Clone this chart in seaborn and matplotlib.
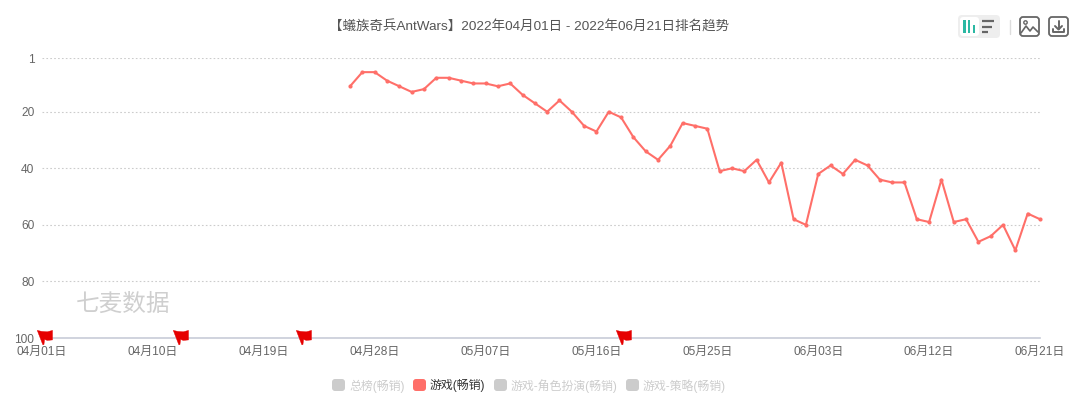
# Rank trend chart

import pandas as pd
import seaborn as sns
import matplotlib.pyplot as plt
from matplotlib.patches import FancyBboxPatch, Rectangle
from matplotlib.path import Path

# Data
start_date = "2022-04-26"
end_date = "2022-06-21"
ranks = [11, 6, 6, 9, 11, 13, 12, 8, 8, 9, 10, 10, 11, 10, 14, 17, 20, 16, 20,
         25, 27, 20, 22, 29, 34, 37, 32, 24, 25, 26, 41, 40, 41, 37, 45, 38,
         58, 60, 42, 39, 42, 37, 39, 44, 45, 45, 58, 59, 44, 59, 58, 66, 64,
         60, 69, 56, 58]
flag_dates = ["2022-04-01", "2022-04-12", "2022-04-22", "2022-05-18"]
tick_dates = ["2022-04-01", "2022-04-10", "2022-04-19", "2022-04-28", "2022-05-07",
              "2022-05-16", "2022-05-25", "2022-06-03", "2022-06-12", "2022-06-21"]
tick_labels = ["04月01日", "04月10日", "04月19日", "04月28日", "05月07日",
               "05月16日", "05月25日", "06月03日", "06月12日", "06月21日"]
rank_ticks = [1, 20, 40, 60, 80, 100]
legend_names = ["总榜(畅销)", "游戏(畅销)", "游戏-角色扮演(畅销)", "游戏-策略(畅销)"]
legend_active = [False, True, False, False]
title = "【蟻族奇兵AntWars】2022年04月01日 - 2022年06月21日排名趋势"
watermark = "七麦数据"

sns.set_theme(style="white")
plt.rcParams["font.family"] = ["Liberation Sans", "Noto Sans CJK SC", "DejaVu Sans"]

LINE = "#ff6f69"
df = pd.DataFrame({"date": pd.date_range(start_date, end_date), "rank": ranks})

fig = plt.figure(figsize=(10.8, 4.08), dpi=100)
ax = fig.add_axes([42 / 1080, 1 - 338 / 408, 998 / 1080, 280 / 408])

# Rank line
sns.lineplot(data=df, x="date", y="rank", ax=ax, color=LINE, linewidth=1.5,
             marker="o", markersize=3, markeredgewidth=0, clip_on=False, zorder=3)

ax.set_xlim(pd.Timestamp(tick_dates[0]), pd.Timestamp(tick_dates[-1]))
ax.set_ylim(100, 1)
ax.set_xlabel("")
ax.set_ylabel("")
ax.set_xticks(pd.to_datetime(tick_dates))
ax.set_xticklabels(tick_labels)
ax.set_yticks(rank_ticks)
ax.tick_params(axis="both", length=0, labelsize=8.6, labelcolor="#666666")
ax.tick_params(axis="x", pad=5.5)
ax.tick_params(axis="y", pad=5.5)
ax.grid(axis="y", color="#cccccc", linestyle=(0, (1.5, 2)), linewidth=0.8)
ax.grid(axis="x", visible=False)
sns.despine(ax=ax, left=True, top=True, right=True)
ax.spines["bottom"].set_color("#c8ccd8")
ax.spines["bottom"].set_linewidth(1.2)

# Red flags sitting on the axis
flag = Path([(0.3, -6.5), (-5.5, 8.5), (-1, 7.5), (5, 7), (10.5, 8.5), (10.5, -1.5), (5, -2),
             (2.2, -1), (1.5, -6.5), (0.3, -6.5)])
ax.scatter(pd.to_datetime(flag_dates), [100] * len(flag_dates), marker=flag, s=207,
           color="#e60000", linewidths=0.3, edgecolors="#e60000", clip_on=False, zorder=4)

# Overlay in pixel coordinates for the page furniture
ov = fig.add_axes([0, 0, 1, 1], facecolor="none")
ov.set_xlim(0, 1080)
ov.set_ylim(408, 0)
ov.axis("off")


def rbox(x0, y0, x1, y1, r=2, fc="none", ec="none", lw=0):
    ov.add_patch(FancyBboxPatch((x0 + r, y0 + r), x1 - x0 - 2 * r, y1 - y0 - 2 * r,
                                boxstyle=f"round,pad={r},rounding_size={r}",
                                fc=fc, ec=ec, lw=lw))


ov.text(529, 26.5, title, ha="center", va="center", fontsize=9.7, color="#555555")
ov.text(76, 305, watermark, ha="left", va="center", fontsize=17, color="#cfcfcf")

# Legend
box_x = [332, 413, 494, 626]
for x, name, active in zip(box_x, legend_names, legend_active):
    rbox(x, 379, x + 13, 391, r=3, fc=LINE if active else "#cccccc")
    ov.text(x + 17, 386, name, ha="left", va="center", fontsize=8.6,
            color="#333333" if active else "#cccccc")

# Chart type switch
rbox(958, 15, 1000, 38, r=4, fc="#eeeeee")
rbox(960, 17, 979, 36, r=3, fc="#ffffff")
for x, top in [(963, 20), (967.5, 20), (972.5, 25)]:
    ov.add_patch(Rectangle((x, top), 2.6, 33 - top, fc="#2bb8a3", ec="none"))
for y, x1 in [(21, 994), (26.5, 992), (32, 988)]:
    ov.plot([982, x1], [y, y], color="#666666", lw=1.6, solid_capstyle="butt")
ov.plot([1010, 1010], [20, 34], color="#dddddd", lw=1)

# Image and download icons
rbox(1020, 17, 1039, 36, r=3, ec="#666666", lw=1.3)
ov.plot([1021, 1026, 1030, 1033, 1038], [33, 26, 31, 27, 32], color="#666666", lw=1.2)
ov.add_patch(plt.Circle((1025.5, 22.5), 1.7, fc="none", ec="#666666", lw=1))
rbox(1049, 17, 1068, 36, r=3, ec="#666666", lw=1.3)
ov.plot([1058.5, 1058.5], [21, 29], color="#666666", lw=1.4)
ov.plot([1055, 1058.5, 1062], [26, 29.5, 26], color="#666666", lw=1.4)
ov.plot([1053, 1053, 1064, 1064], [29, 32, 32, 29], color="#666666", lw=1.4)

fig.savefig("out.png", dpi=100)
